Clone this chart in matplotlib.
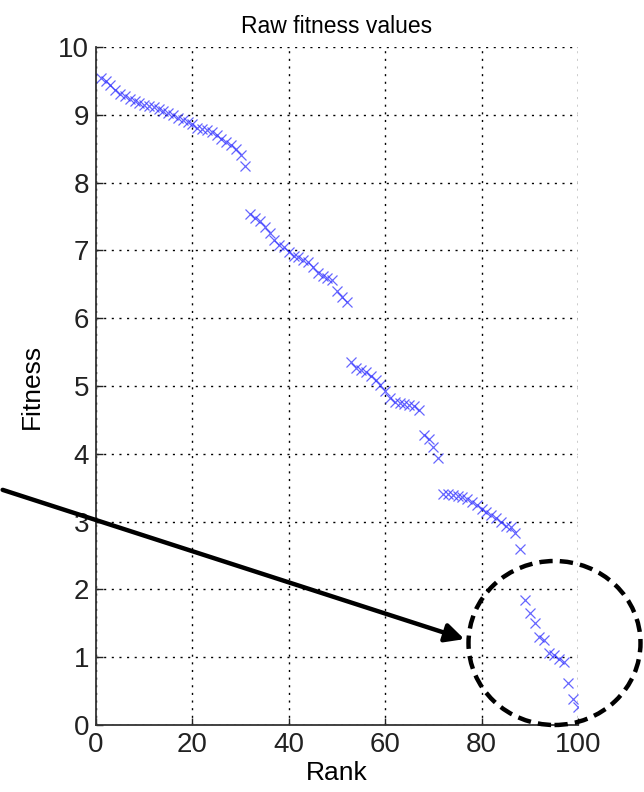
import numpy as np
import matplotlib
matplotlib.use("Agg")
import matplotlib.pyplot as plt
from matplotlib.patches import Ellipse, FancyArrowPatch

plt.rcParams['font.family'] = ['Liberation Sans', 'DejaVu Sans']

rank = np.arange(1, 101)
fitness = [
    # ranks 1-31
    9.55, 9.50, 9.44, 9.36, 9.30, 9.27, 9.24, 9.20, 9.18, 9.15,
    9.13, 9.11, 9.09, 9.06, 9.03, 8.99, 8.95, 8.93, 8.90, 8.86,
    8.80, 8.79, 8.77, 8.74, 8.70, 8.65, 8.60, 8.55, 8.50, 8.40,
    8.25,
    # ranks 32-52
    7.54, 7.48, 7.43, 7.35, 7.26, 7.15, 7.08, 7.05, 6.98, 6.92,
    6.90, 6.86, 6.83, 6.75, 6.66, 6.62, 6.59, 6.56, 6.40, 6.32,
    6.24,
    # ranks 53-71
    5.35, 5.27, 5.23, 5.20, 5.15, 5.09, 5.01, 4.92, 4.82, 4.77,
    4.75, 4.73, 4.72, 4.71, 4.65, 4.28, 4.22, 4.10, 3.94,
    # ranks 72-88
    3.40, 3.40, 3.39, 3.38, 3.37, 3.33, 3.29, 3.24, 3.19, 3.14,
    3.10, 3.05, 2.99, 2.94, 2.92, 2.83, 2.59,
    # ranks 89-100
    1.85, 1.65, 1.50, 1.30, 1.25, 1.06, 1.03, 0.98, 0.93, 0.62,
    0.38, 0.26,
]

W, H = 644, 792
fig = plt.figure(figsize=(W / 100, H / 100), dpi=100)
ax = fig.add_axes([96 / W, 1 - 725 / H, (578 - 96) / W, (725 - 47) / H])

ax.plot(rank, fitness, 'x', color='#3333ff', markersize=6.5, markeredgewidth=0.9, alpha=0.75)

ax.set_xlim(0, 100)
ax.set_ylim(0, 10)
ax.set_xticks(np.arange(0, 101, 20))
ax.set_yticks(np.arange(0, 11, 1))
ax.grid(True, linestyle=(0, (1.5, 4)), color='black', linewidth=1.0)
for s in ['top', 'right']:
    ax.spines[s].set_visible(False)
for s in ['left', 'bottom']:
    ax.spines[s].set_linewidth(1.3)
    ax.spines[s].set_color('#333333')
ax.tick_params(direction='in', length=5, width=1, labelsize=20, colors='#222222', pad=5)
ax.set_title("Raw fitness values", fontsize=16.5, pad=10)
ax.set_xlabel("Rank", fontsize=19, labelpad=2)
ax.set_ylabel("Fitness", fontsize=19, labelpad=10)

# annotation: arrow and dashed circle, in figure coordinates
arrow = FancyArrowPatch((0 / W, 1 - 489 / H), (467 / W, 1 - 640 / H),
                        transform=fig.transFigure, arrowstyle='-|>',
                        mutation_scale=28, color='black', linewidth=3.2)
fig.patches.append(arrow)
circ = Ellipse((554.5 / W, 1 - 643 / H), 2 * 86 / W, 2 * 82 / H,
               transform=fig.transFigure, fill=False, edgecolor='black',
               linewidth=3.2, linestyle=(0, (3, 1.6)))
fig.patches.append(circ)

fig.savefig("out.png", dpi=100)
